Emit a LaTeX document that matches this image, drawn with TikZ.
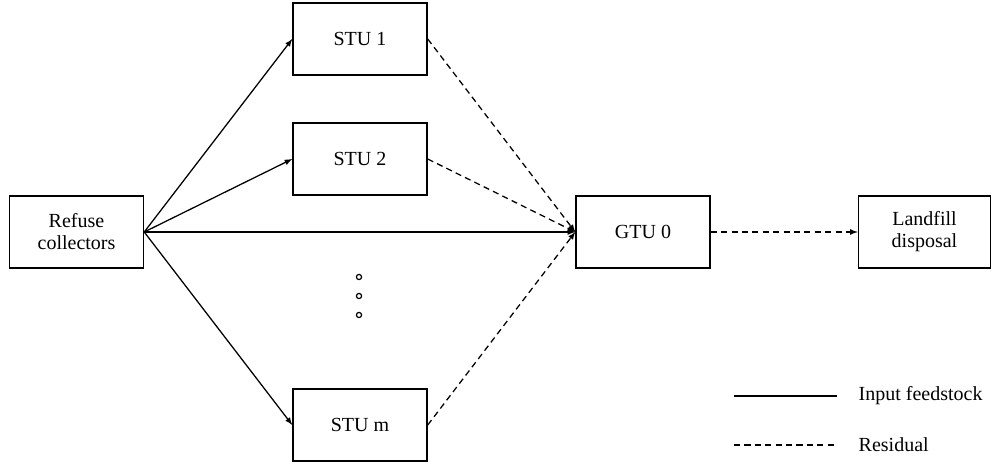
\documentclass[tikz,border=0pt]{standalone}
\usepackage{fontspec}
\setmainfont{Liberation Serif}
\begin{document}
\begin{tikzpicture}[x=0.75pt, y=-0.75pt, font=\fontsize{15}{16.5}\selectfont,
    unit/.style={draw, line width=1.1pt, minimum width=100.5pt, minimum height=54pt, align=center},
    feed/.style={-latex, line width=0.95pt},
    resid/.style={-latex, line width=0.95pt, dash pattern=on 4.6pt off 3.2pt}]
    \useasboundingbox (0,0) rectangle (992,466);
    % units
    \node[unit] (rc) at (76.5,232) {Refuse\\collectors};
    \node[unit] (stu1) at (360,39) {STU 1};
    \node[unit] (stu2) at (360,159) {STU 2};
    \node[unit] (stum) at (360,425) {STU m};
    \node[unit] (gtu) at (643,232) {GTU 0};
    \node[unit, minimum width=99pt] (lf) at (924.5,232) {Landfill\\disposal};
    % dots
    \foreach \y in {277,296,315}
        \draw[line width=0.9pt] (359,\y) circle (2.6);
    % flows
    \draw[feed] (rc.east) -- (stu1.west);
    \draw[feed] (rc.east) -- (stu2.west);
    \draw[feed] (rc.east) -- (gtu.west);
    \draw[feed] (rc.east) -- (stum.west);
    \draw[resid] (stu1.east) -- (gtu.west);
    \draw[resid] (stu2.east) -- (gtu.west);
    \draw[resid] (stum.east) -- (gtu.west);
    \draw[resid] (gtu.east) -- (lf.west);
    % legend
    \coordinate (k1a) at (734,396);
    \coordinate (k1b) at (837,396);
    \coordinate (k2a) at (734,445);
    \coordinate (k2b) at (837,445);
    \draw[line width=0.95pt] (k1a) -- (k1b);
    \draw[line width=0.95pt, dash pattern=on 4.6pt off 3.2pt] (k2a) -- (k2b);
    \node[anchor=west] (l1) at (854,396) {Input feedstock};
    \node[anchor=west] (l2) at (854,445) {Residual};
\end{tikzpicture}
\end{document}
